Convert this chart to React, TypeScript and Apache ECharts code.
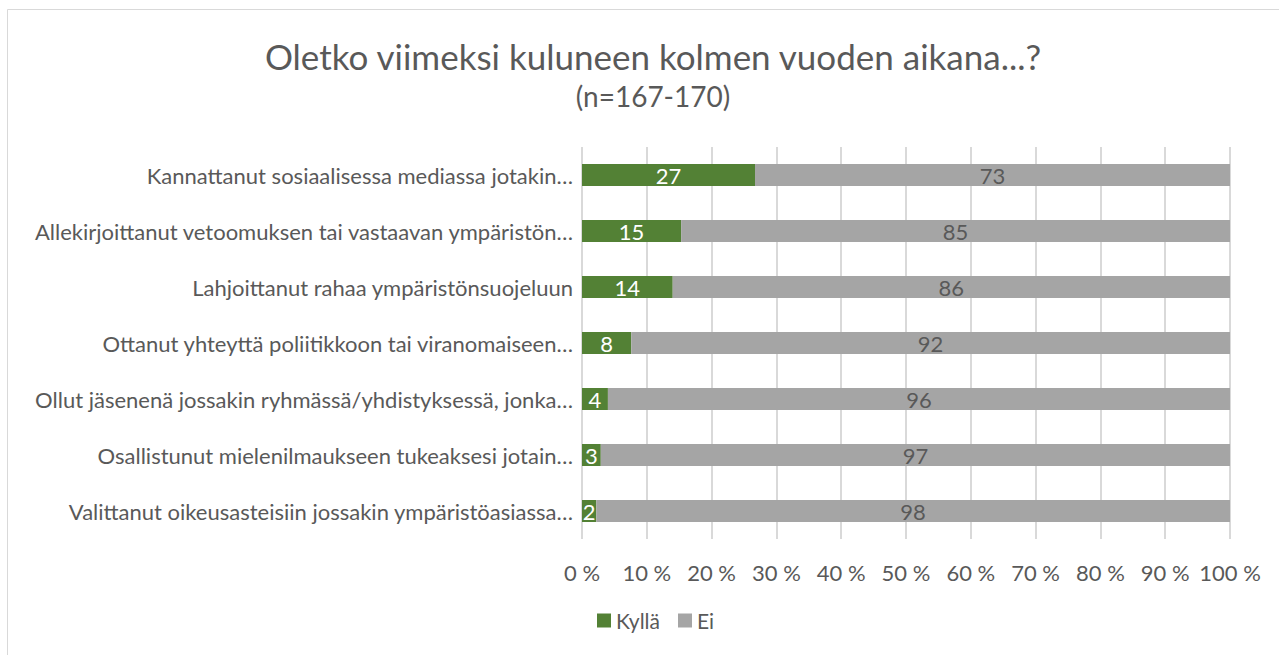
import React, { useEffect, useRef } from "react";
import * as echarts from "echarts";

const categories = [
  "Kannattanut sosiaalisessa mediassa jotakin…",
  "Allekirjoittanut vetoomuksen tai vastaavan ympäristön…",
  "Lahjoittanut rahaa ympäristönsuojeluun",
  "Ottanut yhteyttä poliitikkoon tai viranomaiseen…",
  "Ollut jäsenenä jossakin ryhmässä/yhdistyksessä, jonka…",
  "Osallistunut mielenilmaukseen tukeaksesi jotain…",
  "Valittanut oikeusasteisiin jossakin ympäristöasiassa…",
];
const kylla = [26.7, 15.3, 14.0, 7.6, 4.0, 2.9, 2.2];
const ei = [73.3, 84.7, 86.0, 92.4, 96.0, 97.1, 97.8];
const tickValues = [0, 10, 20, 30, 40, 50, 60, 70, 80, 90, 100];

const FONT = "Lato, sans-serif";
const TXT = "#595959";

export default function App() {
  const ref = useRef<HTMLDivElement>(null);
  useEffect(() => {
    if (!ref.current) return;
    const chart = echarts.init(ref.current, undefined, { renderer: "svg" });
    const cats = categories.slice().reverse();
    const k = kylla.slice().reverse();
    const e = ei.slice().reverse();
    chart.setOption({
      animation: false,
      textStyle: { fontFamily: FONT },
      graphic: [
        {
          type: "rect",
          shape: { x: 7.5, y: 9.5, width: 1290, height: 660 },
          style: { fill: "none", stroke: "#D9D9D9", lineWidth: 1 },
          silent: true,
        },
      ],
      title: {
        text: "Oletko viimeksi kuluneen kolmen vuoden aikana...?",
        subtext: "(n=167-170)",
        left: 648,
        textAlign: "center",
        top: 33,
        itemGap: 9,
        textStyle: { fontFamily: FONT, fontSize: 35, fontWeight: "normal", color: TXT },
        subtextStyle: { fontFamily: FONT, fontSize: 28, color: TXT },
      },
      legend: {
        bottom: 19,
        left: 592,
        itemWidth: 14,
        itemHeight: 14,
        itemGap: 18,
        itemTextGap: 5,
        icon: "rect",
        textStyle: { fontFamily: FONT, fontSize: 21, color: TXT },
        data: ["Kyllä", "Ei"],
      },
      grid: { left: 582, right: 49, top: 147, height: 392, containLabel: false },
      xAxis: {
        type: "value",
        min: 0,
        max: 100,
        interval: 10,
        axisLine: { show: false },
        axisTick: { show: false },
        splitLine: { lineStyle: { color: "#D9D9D9", width: 2 } },
        axisLabel: {
          fontFamily: FONT,
          fontSize: 22,
          color: TXT,
          margin: 22,
          formatter: (v: number) => (tickValues.includes(v) ? v + " %" : ""),
        },
      },
      yAxis: {
        type: "category",
        data: cats,
        axisLine: { show: false },
        axisTick: { show: false },
        axisLabel: { fontFamily: FONT, fontSize: 22, color: TXT, margin: 9 },
      },
      series: [
        {
          name: "Kyllä",
          type: "bar",
          stack: "s",
          data: k,
          barWidth: 22,
          itemStyle: { color: "#538135" },
          label: {
            show: true,
            position: "inside",
            color: "#fff",
            fontFamily: FONT,
            fontSize: 22,
            formatter: (p: any) => String(Math.round(p.value)),
          },
        },
        {
          name: "Ei",
          type: "bar",
          stack: "s",
          data: e,
          barWidth: 22,
          itemStyle: { color: "#A5A5A5" },
          label: {
            show: true,
            position: "inside",
            color: TXT,
            fontFamily: FONT,
            fontSize: 22,
            formatter: (p: any) => String(Math.round(p.value)),
          },
        },
      ],
    });
    return () => chart.dispose();
  }, []);
  return <div ref={ref} style={{ width: 1279, height: 655, position: "absolute", left: 0, top: 0 }} />;
}
